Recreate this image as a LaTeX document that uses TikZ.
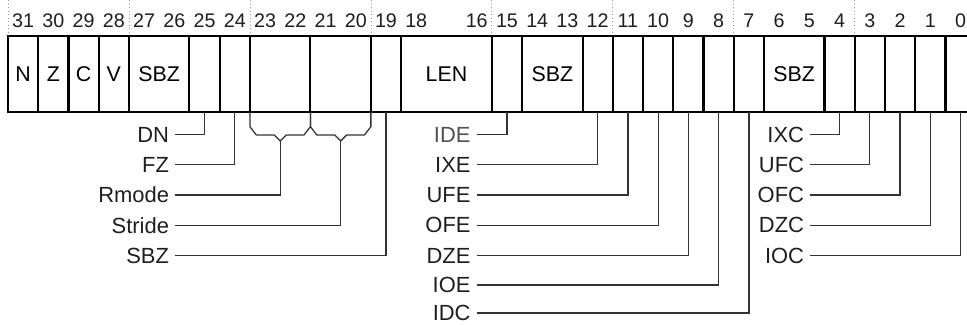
\documentclass[tikz,border=0pt]{standalone}
\usepackage{fontspec}
\setmainfont{Liberation Sans}
\definecolor{inkgray}{RGB}{30,30,30}
\definecolor{wiregray}{RGB}{51,51,51}
\definecolor{softgray}{RGB}{80,80,80}

\begin{document}
\begin{tikzpicture}[x=1cm,y=1cm,line join=miter,
  bitnum/.style={font=\fontsize{14}{16}\selectfont,text=inkgray,inner sep=0pt,outer sep=0pt},
  fieldlbl/.style={font=\fontsize{15.2}{17}\selectfont,text=black,inner sep=0pt},
  flaglbl/.style={font=\fontsize{15.6}{17}\selectfont,text=inkgray,anchor=east,inner xsep=0.15cm,inner ysep=0pt,outer sep=0pt},
  frame/.style={black,line width=1.5pt},
  guide/.style={black!40,line width=0.5pt,dotted},
  conn/.style={wiregray,line width=0.9pt}]
\useasboundingbox (0,0) rectangle (24.175,8.125);
% nibble guides above the register
\draw[guide] (0.200,8.125) -- (0.200,7.225);
\draw[guide] (3.224,8.125) -- (3.224,7.225);
\draw[guide] (6.248,8.125) -- (6.248,7.225);
\draw[guide] (9.272,8.125) -- (9.272,7.225);
\draw[guide] (12.296,8.125) -- (12.296,7.225);
\draw[guide] (15.320,8.125) -- (15.320,7.225);
\draw[guide] (18.344,8.125) -- (18.344,7.225);
\draw[guide] (21.368,8.125) -- (21.368,7.225);
% bit numbers
\node[bitnum] (num31) at (0.578,7.6) {31};
\node[bitnum] (num30) at (1.334,7.6) {30};
\node[bitnum] (num29) at (2.090,7.6) {29};
\node[bitnum] (num28) at (2.846,7.6) {28};
\node[bitnum] (num27) at (3.602,7.6) {27};
\node[bitnum] (num26) at (4.358,7.6) {26};
\node[bitnum] (num25) at (5.114,7.6) {25};
\node[bitnum] (num24) at (5.870,7.6) {24};
\node[bitnum] (num23) at (6.626,7.6) {23};
\node[bitnum] (num22) at (7.382,7.6) {22};
\node[bitnum] (num21) at (8.138,7.6) {21};
\node[bitnum] (num20) at (8.894,7.6) {20};
\node[bitnum] (num19) at (9.650,7.6) {19};
\node[bitnum] (num18) at (10.406,7.6) {18};
\node[bitnum] (num16) at (11.918,7.6) {16};
\node[bitnum] (num15) at (12.674,7.6) {15};
\node[bitnum] (num14) at (13.430,7.6) {14};
\node[bitnum] (num13) at (14.186,7.6) {13};
\node[bitnum] (num12) at (14.942,7.6) {12};
\node[bitnum] (num11) at (15.698,7.6) {11};
\node[bitnum] (num10) at (16.454,7.6) {10};
\node[bitnum] (num9) at (17.210,7.6) {9};
\node[bitnum] (num8) at (17.966,7.6) {8};
\node[bitnum] (num7) at (18.722,7.6) {7};
\node[bitnum] (num6) at (19.478,7.6) {6};
\node[bitnum] (num5) at (20.234,7.6) {5};
\node[bitnum] (num4) at (20.990,7.6) {4};
\node[bitnum] (num3) at (21.746,7.6) {3};
\node[bitnum] (num2) at (22.502,7.6) {2};
\node[bitnum] (num1) at (23.258,7.6) {1};
\node[bitnum] (num0) at (24.014,7.6) {0};
% register outline and field dividers
\draw[frame] (0.200,5.325) rectangle (24.392,7.225);
\draw[frame] (0.956,5.325) -- (0.956,7.225);
\draw[frame] (1.712,5.325) -- (1.712,7.225);
\draw[frame] (2.468,5.325) -- (2.468,7.225);
\draw[frame] (3.224,5.325) -- (3.224,7.225);
\draw[frame] (4.736,5.325) -- (4.736,7.225);
\draw[frame] (5.492,5.325) -- (5.492,7.225);
\draw[frame] (6.248,5.325) -- (6.248,7.225);
\draw[frame] (7.760,5.325) -- (7.760,7.225);
\draw[frame] (9.272,5.325) -- (9.272,7.225);
\draw[frame] (10.028,5.325) -- (10.028,7.225);
\draw[frame] (12.296,5.325) -- (12.296,7.225);
\draw[frame] (13.052,5.325) -- (13.052,7.225);
\draw[frame] (14.564,5.325) -- (14.564,7.225);
\draw[frame] (15.320,5.325) -- (15.320,7.225);
\draw[frame] (16.076,5.325) -- (16.076,7.225);
\draw[frame] (16.832,5.325) -- (16.832,7.225);
\draw[frame] (17.588,5.325) -- (17.588,7.225);
\draw[frame] (18.344,5.325) -- (18.344,7.225);
\draw[frame] (19.100,5.325) -- (19.100,7.225);
\draw[frame] (20.612,5.325) -- (20.612,7.225);
\draw[frame] (21.368,5.325) -- (21.368,7.225);
\draw[frame] (22.124,5.325) -- (22.124,7.225);
\draw[frame] (22.880,5.325) -- (22.880,7.225);
\draw[frame] (23.636,5.325) -- (23.636,7.225);
% field names inside the register
\node[fieldlbl] (fldN) at (0.578,6.275) {N};
\node[fieldlbl] (fldZ) at (1.334,6.275) {Z};
\node[fieldlbl] (fldC) at (2.090,6.275) {C};
\node[fieldlbl] (fldV) at (2.846,6.275) {V};
\node[fieldlbl] (fldSBZa) at (3.980,6.275) {SBZ};
\node[fieldlbl] (fldLEN) at (11.162,6.275) {LEN};
\node[fieldlbl] (fldSBZb) at (13.808,6.275) {SBZ};
\node[fieldlbl] (fldSBZc) at (19.856,6.275) {SBZ};
% two-bit field braces
\draw[conn] (6.248,5.325) -- (6.248,4.958) -- (6.408,4.75) -- (6.854,4.75) -- (7.004,4.6) -- (7.154,4.75) -- (7.600,4.75) -- (7.760,4.958) -- (7.760,5.325);
\draw[conn] (7.760,5.325) -- (7.760,4.958) -- (7.920,4.75) -- (8.366,4.75) -- (8.516,4.6) -- (8.666,4.75) -- (9.112,4.75) -- (9.272,4.958) -- (9.272,5.325);
% tap points under the register
\coordinate (tap25) at (5.114,5.325);
\coordinate (tap24) at (5.870,5.325);
\coordinate (tapRm) at (7.004,4.6);
\coordinate (tapSt) at (8.516,4.6);
\coordinate (tap19) at (9.650,5.325);
\coordinate (tap15) at (12.674,5.325);
\coordinate (tap12) at (14.942,5.325);
\coordinate (tap11) at (15.698,5.325);
\coordinate (tap10) at (16.454,5.325);
\coordinate (tap9) at (17.210,5.325);
\coordinate (tap8) at (17.966,5.325);
\coordinate (tap7) at (18.722,5.325);
\coordinate (tap4) at (20.990,5.325);
\coordinate (tap3) at (21.746,5.325);
\coordinate (tap2) at (22.502,5.325);
\coordinate (tap1) at (23.258,5.325);
\coordinate (tap0) at (24.014,5.325);
% left column
\node[flaglbl] (dn) at (4.375,4.763) {DN};
\node[flaglbl] (fz) at (4.375,4.006) {FZ};
\node[flaglbl] (rmode) at (4.375,3.250) {Rmode};
\node[flaglbl] (stride) at (4.375,2.494) {Stride};
\node[flaglbl] (sbz) at (4.375,1.738) {SBZ};
\draw[conn] (dn.east) -| (tap25);
\draw[conn] (fz.east) -| (tap24);
\draw[conn] (rmode.east) -| (tapRm);
\draw[conn] (stride.east) -| (tapSt);
\draw[conn] (sbz.east) -| (tap19);
% middle column
\node[flaglbl,text=softgray] (ide) at (11.913,4.763) {IDE};
\node[flaglbl] (ixe) at (11.913,4.006) {IXE};
\node[flaglbl] (ufe) at (11.913,3.250) {UFE};
\node[flaglbl] (ofe) at (11.913,2.494) {OFE};
\node[flaglbl] (dze) at (11.913,1.738) {DZE};
\node[flaglbl] (ioe) at (11.913,1.000) {IOE};
\node[flaglbl] (idc) at (11.913,0.300) {IDC};
\draw[conn] (ide.east) -| (tap15);
\draw[conn] (ixe.east) -| (tap12);
\draw[conn] (ufe.east) -| (tap11);
\draw[conn] (ofe.east) -| (tap10);
\draw[conn] (dze.east) -| (tap9);
\draw[conn] (ioe.east) -| (tap8);
\draw[conn] (idc.east) -| (tap7);
% right column
\node[flaglbl] (ixc) at (20.250,4.763) {IXC};
\node[flaglbl] (ufc) at (20.250,4.006) {UFC};
\node[flaglbl] (ofc) at (20.250,3.250) {OFC};
\node[flaglbl] (dzc) at (20.250,2.494) {DZC};
\node[flaglbl] (ioc) at (20.250,1.738) {IOC};
\draw[conn] (ixc.east) -| (tap4);
\draw[conn] (ufc.east) -| (tap3);
\draw[conn] (ofc.east) -| (tap2);
\draw[conn] (dzc.east) -| (tap1);
\draw[conn] (ioc.east) -| (tap0);
\end{tikzpicture}
\end{document}
